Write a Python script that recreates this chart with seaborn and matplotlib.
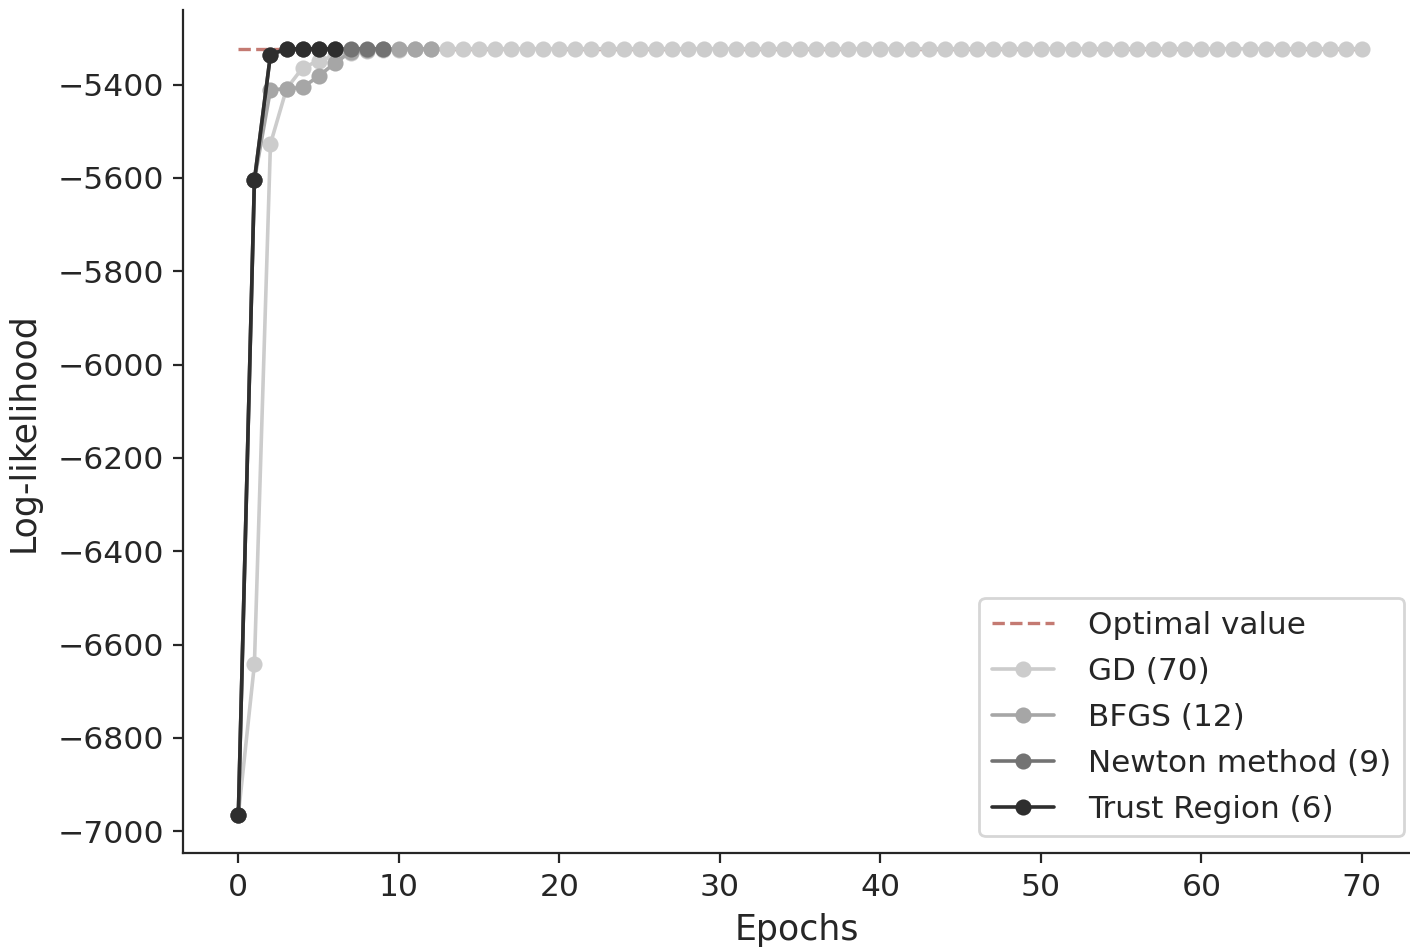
import numpy as np
import pandas as pd
import matplotlib
matplotlib.use("Agg")
import matplotlib.pyplot as plt
import seaborn as sns

# values
optimal = -5323
gd = [-6965, -6642, -5527, -5409, -5364, -5349, -5338, -5332, -5328, -5326, -5325, -5324] + [-5323] * 59
bfgs = [-6965, -5605, -5411, -5409, -5406, -5382, -5354, -5330, -5326, -5324, -5323, -5323, -5323]
newton = [-6965, -5605, -5336, -5324, -5323, -5323, -5323, -5323, -5323, -5323]
trust = [-6965, -5605, -5336, -5323, -5323, -5323, -5323]

series = {
    "GD (70)": gd,
    "BFGS (12)": bfgs,
    "Newton method (9)": newton,
    "Trust Region (6)": trust,
}
colors = ["#cccccc", "#a6a6a6", "#737373", "#2e2e2e"]

rows = []
for name, vals in series.items():
    for i, v in enumerate(vals):
        rows.append({"Epoch": i, "LL": v, "Method": name})
df = pd.DataFrame(rows)

sns.set_style("ticks")
plt.rcParams["font.family"] = ["DejaVu Sans"]

fig = plt.figure(figsize=(7.05, 4.735), dpi=200)
ax = fig.add_axes([0.13, 0.099, 0.87, 0.89])

opt_df = pd.DataFrame({"Epoch": np.arange(len(gd)), "LL": optimal})
sns.lineplot(data=opt_df, x="Epoch", y="LL", ax=ax, color="#c47a72",
             linestyle="--", linewidth=1.2, label="Optimal value", zorder=1)

sns.lineplot(data=df, x="Epoch", y="LL", hue="Method", palette=colors,
             marker="o", markersize=5.8, markeredgewidth=0, linewidth=1.3,
             ax=ax, zorder=2)

ax.set_xlim(-3.43, 73.0)
ax.set_ylim(-7047, -5241)
ax.set_xticks(range(0, 71, 10))
ax.set_yticks(range(-7000, -5399, 200))
ax.tick_params(labelsize=11.3)
ax.set_xlabel("Epochs", fontsize=12.5)
ax.set_ylabel("Log-likelihood", fontsize=12.5, labelpad=6)

handles, labels = ax.get_legend_handles_labels()
ax.legend(handles, labels, loc="lower right", bbox_to_anchor=(0.995, 0.02),
          fontsize=11.2, frameon=True, borderaxespad=0, handlelength=2.0,
          labelspacing=0.55, handletextpad=1.1)
sns.despine(ax=ax)

fig.savefig("out.png", dpi=200)
